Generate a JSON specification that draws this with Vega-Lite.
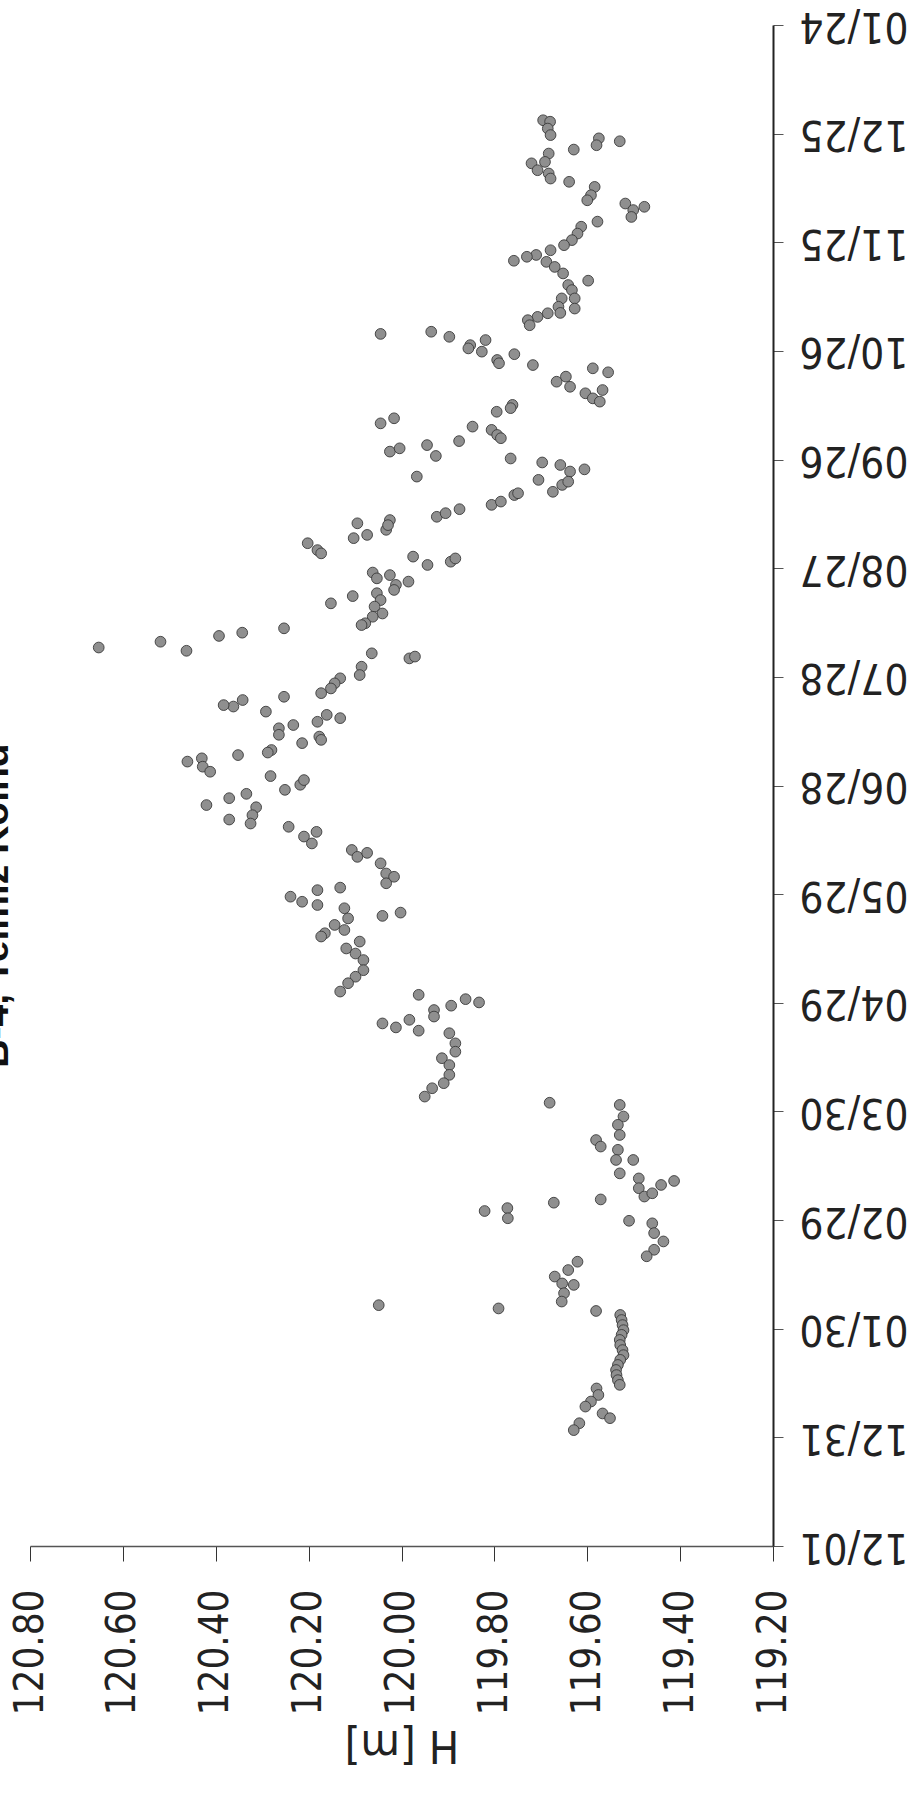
{
  "$schema": "https://vega.github.io/schema/vega-lite/v6.json",
  "autosize": {"type": "none"},
  "padding": {"left": 30, "top": 25, "right": 148, "bottom": 252},
  "width": 743,
  "height": 1521,
  "background": "white",
  "config": {"view": {"stroke": null}},
  "title": {
    "text": "B-4, Telmiz Kolnd",
    "orient": "left",
    "anchor": "middle",
    "font": "Liberation Sans",
    "fontWeight": "bold",
    "fontSize": 39,
    "color": "#111",
    "offset": 14,
    "dx": -120,
    "dy": 20
  },
  "data": {
    "values": [
      {"day": 393.7, "H": 119.695}, {"day": 393.3, "H": 119.680}, {"day": 391.4, "H": 119.685}, {"day": 389.6, "H": 119.679},
      {"day": 385.6, "H": 119.629}, {"day": 388.7, "H": 119.575}, {"day": 386.8, "H": 119.580}, {"day": 387.9, "H": 119.530},
      {"day": 384.5, "H": 119.683}, {"day": 382.2, "H": 119.691}, {"day": 381.8, "H": 119.720}, {"day": 379.9, "H": 119.707},
      {"day": 379.0, "H": 119.683}, {"day": 377.6, "H": 119.679}, {"day": 376.7, "H": 119.639}, {"day": 375.3, "H": 119.584},
      {"day": 373.0, "H": 119.592}, {"day": 371.6, "H": 119.600}, {"day": 370.7, "H": 119.518}, {"day": 368.9, "H": 119.501},
      {"day": 369.8, "H": 119.477}, {"day": 367.0, "H": 119.505}, {"day": 365.7, "H": 119.578}, {"day": 364.3, "H": 119.613},
      {"day": 362.4, "H": 119.621}, {"day": 360.6, "H": 119.633}, {"day": 359.2, "H": 119.650}, {"day": 357.8, "H": 119.679},
      {"day": 356.5, "H": 119.710}, {"day": 356.0, "H": 119.730}, {"day": 354.9, "H": 119.758}, {"day": 354.6, "H": 119.688},
      {"day": 353.2, "H": 119.670}, {"day": 351.4, "H": 119.652}, {"day": 348.2, "H": 119.641}, {"day": 346.8, "H": 119.633},
      {"day": 344.5, "H": 119.627}, {"day": 341.7, "H": 119.627}, {"day": 344.5, "H": 119.655}, {"day": 342.2, "H": 119.662},
      {"day": 340.5, "H": 119.658}, {"day": 340.4, "H": 119.685}, {"day": 339.4, "H": 119.707}, {"day": 338.5, "H": 119.728},
      {"day": 337.1, "H": 119.724}, {"day": 349.4, "H": 119.598},
      {"day": 334.7, "H": 120.045}, {"day": 335.3, "H": 119.936}, {"day": 333.9, "H": 119.897}, {"day": 331.6, "H": 119.852},
      {"day": 330.7, "H": 119.856}, {"day": 333.0, "H": 119.819}, {"day": 329.8, "H": 119.827}, {"day": 327.5, "H": 119.794},
      {"day": 326.6, "H": 119.790}, {"day": 329.1, "H": 119.757}, {"day": 326.1, "H": 119.717}, {"day": 321.5, "H": 119.666},
      {"day": 322.9, "H": 119.646}, {"day": 320.1, "H": 119.637}, {"day": 325.2, "H": 119.588}, {"day": 324.1, "H": 119.555},
      {"day": 318.3, "H": 119.604}, {"day": 316.9, "H": 119.588}, {"day": 316.0, "H": 119.573}, {"day": 319.2, "H": 119.567},
      {"day": 310.0, "H": 120.045}, {"day": 311.4, "H": 120.016}, {"day": 313.2, "H": 119.795}, {"day": 315.1, "H": 119.761},
      {"day": 314.2, "H": 119.765}, {"day": 309.1, "H": 119.847}, {"day": 308.2, "H": 119.806}, {"day": 306.8, "H": 119.794},
      {"day": 305.9, "H": 119.786}, {"day": 305.1, "H": 119.876}, {"day": 302.2, "H": 120.025}, {"day": 303.1, "H": 120.004},
      {"day": 304.0, "H": 119.945}, {"day": 301.0, "H": 119.926}, {"day": 295.3, "H": 119.967}, {"day": 300.3, "H": 119.765},
      {"day": 299.2, "H": 119.697}, {"day": 298.5, "H": 119.658}, {"day": 296.7, "H": 119.637}, {"day": 297.3, "H": 119.606},
      {"day": 294.4, "H": 119.705}, {"day": 291.1, "H": 119.674}, {"day": 293.0, "H": 119.654}, {"day": 293.9, "H": 119.641},
      {"day": 287.5, "H": 119.806}, {"day": 288.4, "H": 119.786}, {"day": 290.2, "H": 119.757}, {"day": 290.7, "H": 119.749},
      {"day": 284.2, "H": 119.924}, {"day": 285.2, "H": 119.905}, {"day": 286.3, "H": 119.875}, {"day": 282.4, "H": 120.095},
      {"day": 278.3, "H": 120.103}, {"day": 279.2, "H": 120.074}, {"day": 280.6, "H": 120.033}, {"day": 283.3, "H": 120.025},
      {"day": 281.9, "H": 120.029}, {"day": 276.9, "H": 120.202}, {"day": 275.0, "H": 120.181}, {"day": 274.1, "H": 120.173},
      {"day": 273.2, "H": 119.975}, {"day": 270.9, "H": 119.944}, {"day": 271.8, "H": 119.894}, {"day": 272.7, "H": 119.884},
      {"day": 268.8, "H": 120.062}, {"day": 267.2, "H": 120.053}, {"day": 268.1, "H": 120.025}, {"day": 265.4, "H": 120.012},
      {"day": 264.0, "H": 120.016}, {"day": 266.3, "H": 119.985}, {"day": 263.1, "H": 120.053}, {"day": 261.2, "H": 120.045},
      {"day": 259.4, "H": 120.058}, {"day": 257.5, "H": 120.041}, {"day": 256.6, "H": 120.062}, {"day": 254.8, "H": 120.078},
      {"day": 254.3, "H": 120.086}, {"day": 262.3, "H": 120.105}, {"day": 260.3, "H": 120.152}, {"day": 253.4, "H": 120.253},
      {"day": 252.2, "H": 120.343}, {"day": 251.3, "H": 120.393}, {"day": 247.2, "H": 120.463}, {"day": 249.7, "H": 120.519},
      {"day": 248.1, "H": 120.652}, {"day": 246.5, "H": 120.064}, {"day": 245.1, "H": 119.983}, {"day": 245.6, "H": 119.971},
      {"day": 242.8, "H": 120.086}, {"day": 240.5, "H": 120.090}, {"day": 239.6, "H": 120.132}, {"day": 238.2, "H": 120.144},
      {"day": 236.8, "H": 120.152}, {"day": 235.5, "H": 120.173}, {"day": 234.5, "H": 120.253}, {"day": 233.6, "H": 120.342},
      {"day": 231.8, "H": 120.362}, {"day": 232.2, "H": 120.383}, {"day": 230.4, "H": 120.292}, {"day": 229.5, "H": 120.161},
      {"day": 227.6, "H": 120.181}, {"day": 228.6, "H": 120.132}, {"day": 226.7, "H": 120.233}, {"day": 225.8, "H": 120.264},
      {"day": 224.0, "H": 120.264}, {"day": 223.5, "H": 120.177}, {"day": 222.6, "H": 120.173}, {"day": 221.7, "H": 120.214},
      {"day": 219.8, "H": 120.280}, {"day": 219.1, "H": 120.288}, {"day": 218.4, "H": 120.352}, {"day": 216.6, "H": 120.461},
      {"day": 217.5, "H": 120.430}, {"day": 215.2, "H": 120.428}, {"day": 213.8, "H": 120.412}, {"day": 212.6, "H": 120.282},
      {"day": 208.8, "H": 120.251}, {"day": 210.2, "H": 120.218}, {"day": 211.5, "H": 120.210}, {"day": 207.7, "H": 120.334},
      {"day": 206.5, "H": 120.371}, {"day": 204.6, "H": 120.420}, {"day": 204.0, "H": 120.313},
      {"day": 200.6, "H": 120.371}, {"day": 201.8, "H": 120.321}, {"day": 199.5, "H": 120.325}, {"day": 198.6, "H": 120.243},
      {"day": 195.9, "H": 120.210}, {"day": 194.0, "H": 120.193}, {"day": 197.2, "H": 120.183}, {"day": 192.2, "H": 120.107},
      {"day": 190.3, "H": 120.095}, {"day": 191.4, "H": 120.074}, {"day": 188.5, "H": 120.045}, {"day": 185.7, "H": 120.033},
      {"day": 184.8, "H": 120.016}, {"day": 183.0, "H": 120.033}, {"day": 179.3, "H": 120.239}, {"day": 177.9, "H": 120.214},
      {"day": 181.1, "H": 120.181}, {"day": 177.0, "H": 120.181}, {"day": 181.8, "H": 120.132}, {"day": 176.1, "H": 120.123},
      {"day": 173.3, "H": 120.115}, {"day": 171.5, "H": 120.144}, {"day": 169.2, "H": 120.165}, {"day": 168.3, "H": 120.173},
      {"day": 170.1, "H": 120.123}, {"day": 166.9, "H": 120.090}, {"day": 165.0, "H": 120.119}, {"day": 163.6, "H": 120.099},
      {"day": 161.8, "H": 120.082}, {"day": 159.0, "H": 120.082}, {"day": 157.2, "H": 120.099}, {"day": 155.4, "H": 120.115},
      {"day": 153.1, "H": 120.132}, {"day": 174.0, "H": 120.041}, {"day": 174.9, "H": 120.002}, {"day": 152.2, "H": 119.963},
      {"day": 148.0, "H": 119.930}, {"day": 146.2, "H": 119.930}, {"day": 149.2, "H": 119.893}, {"day": 151.0, "H": 119.862},
      {"day": 150.1, "H": 119.833}, {"day": 144.3, "H": 120.041}, {"day": 143.2, "H": 120.012}, {"day": 145.3, "H": 119.983},
      {"day": 142.3, "H": 119.963}, {"day": 141.6, "H": 119.897}, {"day": 138.8, "H": 119.884},
      {"day": 136.5, "H": 119.884}, {"day": 134.7, "H": 119.913}, {"day": 132.8, "H": 119.897}, {"day": 130.1, "H": 119.897},
      {"day": 127.8, "H": 119.909}, {"day": 126.4, "H": 119.934}, {"day": 124.1, "H": 119.950}, {"day": 122.4, "H": 119.681},
      {"day": 121.8, "H": 119.530}, {"day": 118.6, "H": 119.522}, {"day": 116.3, "H": 119.534}, {"day": 113.5, "H": 119.530},
      {"day": 112.1, "H": 119.581}, {"day": 110.3, "H": 119.571}, {"day": 109.4, "H": 119.534}, {"day": 106.6, "H": 119.538},
      {"day": 102.9, "H": 119.530}, {"day": 106.6, "H": 119.501}, {"day": 101.5, "H": 119.489}, {"day": 98.8, "H": 119.489},
      {"day": 96.5, "H": 119.477}, {"day": 97.4, "H": 119.460}, {"day": 99.7, "H": 119.441}, {"day": 100.8, "H": 119.413},
      {"day": 95.7, "H": 119.571}, {"day": 94.8, "H": 119.672}, {"day": 92.5, "H": 119.821}, {"day": 93.3, "H": 119.772},
      {"day": 90.5, "H": 119.771}, {"day": 89.8, "H": 119.510}, {"day": 89.1, "H": 119.460}, {"day": 86.4, "H": 119.456},
      {"day": 84.1, "H": 119.436}, {"day": 81.8, "H": 119.456}, {"day": 80.0, "H": 119.472}, {"day": 78.5, "H": 119.621},
      {"day": 76.2, "H": 119.641}, {"day": 74.4, "H": 119.670}, {"day": 72.5, "H": 119.654}, {"day": 72.1, "H": 119.629},
      {"day": 69.8, "H": 119.650}, {"day": 67.5, "H": 119.655}, {"day": 66.5, "H": 120.049}, {"day": 65.6, "H": 119.791},
      {"day": 64.9, "H": 119.581}, {"day": 63.8, "H": 119.529}, {"day": 62.4, "H": 119.526}, {"day": 61.0, "H": 119.524},
      {"day": 59.6, "H": 119.522}, {"day": 58.3, "H": 119.526}, {"day": 56.9, "H": 119.530}, {"day": 55.5, "H": 119.529},
      {"day": 54.1, "H": 119.524}, {"day": 52.7, "H": 119.522}, {"day": 51.4, "H": 119.529}, {"day": 50.0, "H": 119.534},
      {"day": 48.6, "H": 119.538}, {"day": 47.2, "H": 119.537}, {"day": 45.8, "H": 119.534}, {"day": 44.5, "H": 119.530},
      {"day": 43.5, "H": 119.580}, {"day": 41.7, "H": 119.576}, {"day": 39.9, "H": 119.592}, {"day": 38.5, "H": 119.604},
      {"day": 36.6, "H": 119.567}, {"day": 35.3, "H": 119.551}, {"day": 33.9, "H": 119.617}, {"day": 32.0, "H": 119.629}
    ]
  },
  "mark": {"type": "point", "shape": "circle", "filled": true, "size": 115, "fill": "#8f8f8f", "stroke": "#3a3a3a", "strokeWidth": 0.9, "opacity": 1},
  "encoding": {
    "x": {
      "field": "H",
      "type": "quantitative",
      "scale": {"domain": [119.2, 120.8], "reverse": true, "nice": false, "zero": false},
      "axis": {
        "orient": "bottom",
        "values": [119.2, 119.4, 119.6, 119.8, 120.0, 120.2, 120.4, 120.6, 120.8],
        "format": ".2f",
        "grid": false,
        "labelAngle": 270,
        "labelFont": "DejaVu Sans Condensed",
        "labelFontSize": 40,
        "labelColor": "#222",
        "labelPadding": 28,
        "tickSize": 15,
        "tickColor": "#333",
        "domainColor": "#555",
        "domainWidth": 1.5,
        "title": "H [m]",
        "titleAngle": 180,
        "titleFont": "DejaVu Sans Condensed",
        "titleFontSize": 45,
        "titleFontWeight": "normal",
        "titleColor": "#222",
        "titlePadding": 52
      }
    },
    "y": {
      "field": "day",
      "type": "quantitative",
      "scale": {"domain": [0, 420], "nice": false, "zero": false},
      "axis": {
        "orient": "right",
        "values": [0, 30, 60, 90, 120, 150, 180, 210, 240, 270, 300, 330, 360, 390, 420],
        "labelExpr": "timeFormat(datetime(2011, 11, 1 + datum.value), '%m/%d')",
        "grid": false,
        "labelAngle": 180,
        "labelFont": "DejaVu Sans Condensed",
        "labelFontSize": 42,
        "labelColor": "#222",
        "labelPadding": 16,
        "tickSize": 10,
        "tickColor": "#555",
        "domainColor": "#222",
        "domainWidth": 2,
        "title": null
      }
    }
  }
}
